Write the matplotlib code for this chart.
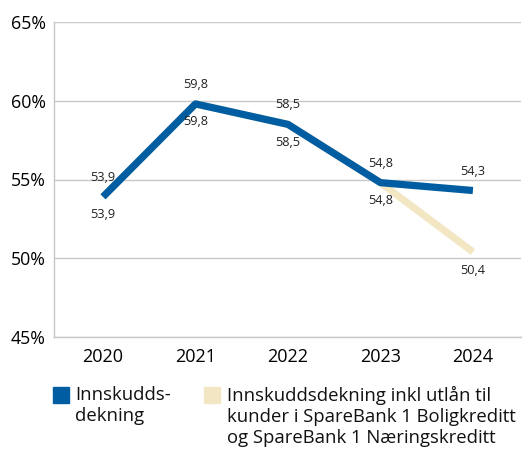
import matplotlib
matplotlib.use("Agg")
import matplotlib.pyplot as plt
from matplotlib.patches import Rectangle

plt.rcParams['font.family'] = ['Open Sans', 'DejaVu Sans']

years = ["2020", "2021", "2022", "2023", "2024"]
innskudd = [53.9, 59.8, 58.5, 54.8, 54.3]
innskudd_inkl = [53.9, 59.8, 58.5, 54.8, 50.4]
yticks = [45, 50, 55, 60, 65]
legend_labels = ["Innskudds-\ndekning",
                 "Innskuddsdekning inkl utlån til\nkunder i SpareBank 1 Boligkreditt\nog SpareBank 1 Næringskreditt"]

blue = "#005DA2"
beige = "#F3E6C3"
grid = "#C8C8C8"

fig = plt.figure(figsize=(5.25, 4.5), dpi=100)
ax = fig.add_axes([54/525, 1-337/450, (521-54)/525, (337-22)/450])

x = list(range(len(years)))
ax.plot(x, innskudd_inkl, color=beige, lw=5.2, solid_capstyle='butt', zorder=2)
ax.plot(x, innskudd, color=blue, lw=5.2, solid_capstyle='butt', zorder=3)

fmt = lambda v: f"{v:.1f}".replace(".", ",")
for xi, v in zip(x, innskudd):
    ax.annotate(fmt(v), (xi, v), xytext=(0, 14), textcoords='offset points',
                ha='center', va='center', fontsize=9.2, color='#222222')
for xi, v in zip(x, innskudd_inkl):
    ax.annotate(fmt(v), (xi, v), xytext=(0, -13), textcoords='offset points',
                ha='center', va='center', fontsize=9.2, color='#222222')

ax.set_ylim(45, 65)
ax.set_xlim(-0.53, 4.52)
ax.set_yticks(yticks)
ax.set_yticklabels([f"{t}%" for t in yticks], fontsize=12.8)
ax.set_xticks(x)
ax.set_xticklabels(years, fontsize=13)
ax.tick_params(length=0, pad=8)
ax.tick_params(axis='y', pad=6)
ax.yaxis.grid(True, color=grid, lw=1)
ax.set_axisbelow(True)
for s in ['top', 'right']:
    ax.spines[s].set_visible(False)
for s in ['left', 'bottom']:
    ax.spines[s].set_color(grid)
    ax.spines[s].set_linewidth(1)

# legend
def px(xp, yp):
    return xp/525, 1-yp/450

fig.patches.append(Rectangle(px(53, 403), 16/525, 16/450, color=blue, transform=fig.transFigure))
fig.patches.append(Rectangle(px(204, 403), 16/525, 16/450, color=beige, transform=fig.transFigure))
fig.text(*px(75, 386), legend_labels[0], fontsize=13.3, va='top', ha='left', linespacing=1.2, color='#111111')
fig.text(*px(227, 386), legend_labels[1], fontsize=13.3, va='top', ha='left', linespacing=1.2, color='#111111')

fig.savefig("out.png", dpi=100)
